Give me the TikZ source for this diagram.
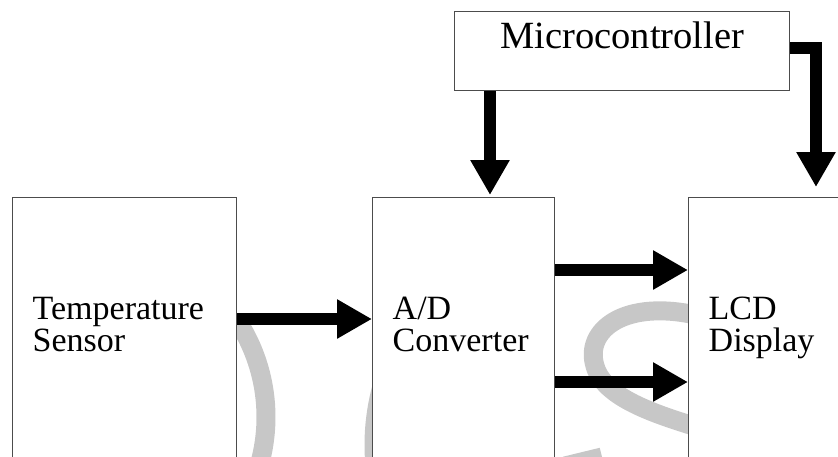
\documentclass[tikz,border=0pt]{standalone}
\usepackage{fontspec}
\setmainfont{Liberation Serif}
\usetikzlibrary{arrows.meta}

\begin{document}
\begin{tikzpicture}[x=1pt,y=1pt,
  block/.style={draw=black!70, line width=1.4pt, fill=white, anchor=north west,
    inner xsep=20pt, inner ysep=0pt, align=left, minimum height=266pt,
    text height=30pt, text depth=52pt, font=\fontsize{34}{32}\selectfont},
  topblock/.style={draw=black!70, line width=1.4pt, fill=white, anchor=north west,
    inner sep=0pt, align=center, minimum width=335pt, minimum height=79pt,
    text height=26pt, text depth=31pt, font=\fontsize{38.5}{40}\selectfont},
  flow/.style={line width=12pt, -{Triangle[length=35pt,width=37pt]}},
  wmark/.style={line width=19pt, draw=black!22}]
\clip (0,0) rectangle (838,-456);

% faint background lettering
\draw[wmark] (90,-417) ++(-25:176pt) arc[start angle=-25, end angle=33, radius=176pt];
\draw[wmark] (594,-445) ++(165:220pt) arc[start angle=165, end angle=195, radius=220pt];
\draw[wmark] (700,-316) .. controls (625,-298) and (584,-330) .. (595,-366)
  .. controls (604,-398) and (655,-414) .. (700,-428);
\draw[wmark] (565,-466) -- (602,-457);

% blocks
\node[block, text width=184pt] (temp) at (12,-197) {Temperature\\Sensor};
\node[block, text width=142pt] (ad) at (372,-197) {A/D\\Converter};
\node[block, text width=160pt] (lcd) at (688,-197) {LCD\\Display};
\node[topblock] (micro) at (454,-11) {Microcontroller};

% signal flow
\draw[flow] ([yshift=-122pt]temp.north east) -- ([yshift=-122pt]ad.north west);
\draw[flow] ([yshift=-73pt]ad.north east) -- ([yshift=-73pt]lcd.north west);
\draw[flow] ([yshift=-185pt]ad.north east) -- ([yshift=-185pt]lcd.north west);
\draw[flow] ([xshift=36pt]micro.south west) -- ([xshift=118pt,yshift=2pt]ad.north west);
\draw[flow] ([yshift=-37pt]micro.north east) -| ([xshift=128pt,yshift=10pt]lcd.north west);
\end{tikzpicture}
\end{document}
